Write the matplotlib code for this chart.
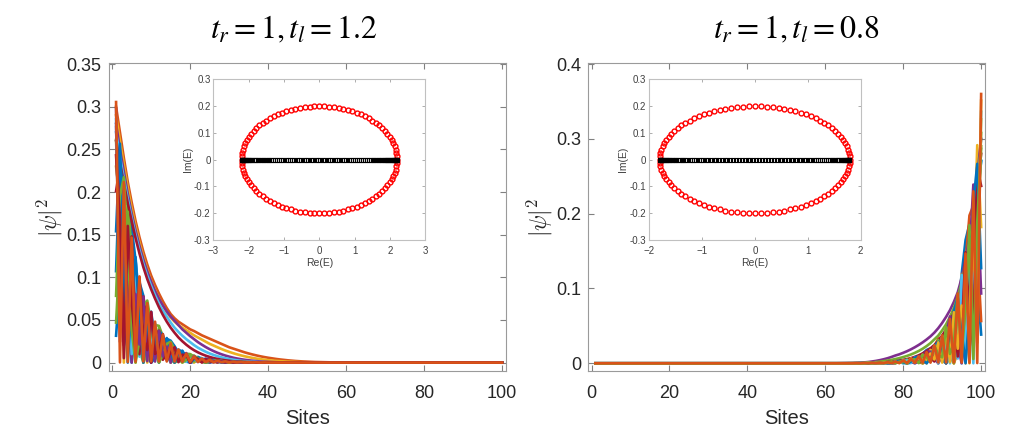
import matplotlib
matplotlib.use("Agg")
import matplotlib.pyplot as plt
from matplotlib.ticker import FormatStrFormatter

plt.rcParams['font.family'] = ['Liberation Sans', 'DejaVu Sans']

sites = list(range(1, 101))

# left panel (t_r = 1, t_l = 1.2): |psi|^2 from site 1 onward
# smooth outer curves
L_orange = [.30, .27, .24, .212, .188, .166, .147, .130, .115, .102, .091, .081, .072, .064, .057, .052, .048,
            .045, .042, .039, .037, .0345, .032, .030, .028, .026, .024, .022, .020, .018, .0165, .015, .0135,
            .012, .0107, .0095, .0084, .0074, .0065, .0057, .0050, .0043, .0037, .0032, .0027, .0023, .0019,
            .0016, .0013, .0011, .0009, .0007, .0006, .0005, .0004, .0003, .0002, .0002, .0001]
L_yellow = [.29, .26, .232, .205, .181, .160, .141, .124, .109, .096, .085, .075, .067, .059, .053, .048, .044,
            .041, .038, .035, .032, .0295, .027, .0245, .022, .020, .018, .016, .0142, .0126, .0111, .0097,
            .0085, .0074, .0064, .0055, .0047, .0040, .0034, .0029, .0024, .0020, .0017, .0014, .0011, .0009,
            .0007, .0005, .0004, .0003, .0002, .0001]
L_purple = [.28, .25, .224, .198, .175, .155, .137, .121, .107, .095, .084, .075, .067, .060, .054, .049, .044,
            .039, .035, .031, .0275, .024, .021, .0182, .0157, .0135, .0115, .0098, .0083, .0070, .0058, .0048,
            .0040, .0033, .0027, .0022, .0017, .0013, .0010, .0008, .0006, .0004, .0003, .0002, .0001]
L_lightblue = [.27, .242, .216, .192, .170, .150, .132, .116, .102, .090, .079, .069, .061, .054, .047, .041,
               .036, .0315, .0275, .024, .0205, .0175, .015, .0127, .0107, .0090, .0075, .0062, .0051, .0042,
               .0034, .0027, .0021, .0017, .0013, .0010, .0007, .0005, .0004, .0003, .0002, .0001]
L_darkred = [.26, .235, .21, .187, .166, .146, .128, .112, .098, .086, .075, .065, .056, .048, .041, .035,
             .0295, .025, .021, .0175, .0145, .012, .0099, .0081, .0066, .0053, .0043, .0034, .0027, .0021,
             .0016, .0012, .0009, .0007, .0005, .0003, .0002, .0001]
# oscillating curves
L_half = [.3056, .0002, .2117, .0007, .1465, .0011, .1011, .0013, .0697, .0014, .0480, .0014, .0329, .0013,
          .0225, .0012, .0154, .0011, .0105, .0009, .0072, .0008, .0048, .0006, .0033, .0005, .0022, .0004,
          .0015, .0003, .0010, .0002, .0007, .0001, .0004, .0001, .0003, 0, .0002]
L_9twentieth = [.2981, .0243, .1685, .0611, .0737, .0804, .0211, .0772, .0017, .0592, .0012, .0372, .0071, .0187,
                .0119, .0069, .0131, .0013, .0112, 0, .0078, .0006, .0044, .0016, .0019, .0021, .0006, .0020, 0,
                .0015, 0, .0010, .0002, .0005, .0003, .0002, .0003, 0, .0003]
L_7twentieth = [.2431, .1670, .0052, .1603, .0739, .0118, .1001, .0295, .0147, .0594, .0102, .0142, .0335, .0027,
                .0119, .0180, .0004, .0090, .0091, 0, .0063, .0044, .0001, .0042, .0019, .0003, .0026, .0008,
                .0004, .0015, .0003, .0004, .0009, .0001, .0003, .0005]
L_third = [.2298, .1915, 0, .1330, .1108, 0, .0770, .0641, 0, .0445, .0371, 0, .0258, .0215, 0, .0149, .0124,
           0, .0086, .0072, 0, .0050, .0042, 0, .0029, .0024, 0, .0017, .0014, 0, .0010, .0008, 0, .0006, .0005]
L_quarter = [.1540, .2567, .1070, 0, .0743, .1238, .0516, 0, .0358, .0597, .0249, 0, .0173, .0288, .0120, 0,
             .0083, .0139, .0058, 0, .0040, .0067, .0028, 0, .0019, .0032, .0013, 0, .0009, .0016, .0006]
L_sixth = [.0783, .1957, .2175, .1359, .0378, 0, .0262, .0656, .0728, .0455, .0126, 0, .0088, .0220, .0244,
           .0152, .0042, 0, .0029, .0074, .0082, .0051, .0014, 0, .0010, .0025, .0027, .0017, .0005, 0,
           .0003, .0008, .0009, .0006, .0002]
L_fifth = [.1072, .2339, .1949, .0621, 0, .0431, .0940, .0784, .0249, 0, .0173, .0378, .0315, .0100, 0,
           .0070, .0152, .0127, .0040, 0, .0028, .0061, .0051, .0016, 0, .0011, .0025, .0020, .0007, 0,
           .0005, .0010, .0008, .0003]
L_eighth = [.0469, .1334, .1898, .1854, .1318, .0644, .0157, 0, .0109, .0310, .0442, .0431, .0307, .0150,
            .0037, 0, .0025, .0072, .0103, .0100, .0071, .0035, .0009, 0, .0006, .0017, .0024, .0023, .0017,
            .0008, .0002]
L_tenth = [.0315, .0949, .1498, .1725, .1589, .1198, .0722, .0318, .0073, 0, .0051, .0153, .0242, .0279,
           .0257, .0193, .0117, .0051, .0012, 0, .0008, .0025, .0039, .0045, .0042, .0031, .0019, .0008,
           .0002, 0, .0001, .0004, .0006, .0007, .0007, .0005, .0003, .0001]
L_3tenth = [.2009, .2313, .0204, .0614, .1480, .0426, .0098, .0775, .0467, 0, .0324, .0374, .0033, .0099,
            .0239, .0069, .0016, .0125, .0075, 0, .0052, .0060, .0005, .0016, .0039, .0011, .0003, .0020,
            .0012, 0, .0008, .0010, .0001, .0003, .0006, .0002, 0, .0003, .0002]
L_2fifth = [.2766, .0880, .0734, .1601, 0, .1112, .0354, .0295, .0643, 0, .0447, .0142, .0119, .0259, 0,
            .0180, .0057, .0048, .0104, 0, .0072, .0023, .0019, .0042, 0, .0029, .0009, .0008, .0017, 0,
            .0012, .0004, .0003, .0007]
L_3eighth = [.2612, .1275, .0311, .1771, .0216, .0615, .0875, 0, .0608, .0297, .0072, .0412, .0050, .0143,
             .0203, 0, .0141, .0069, .0017, .0096, .0012, .0033, .0047, 0, .0033, .0016, .0004, .0022,
             .0003, .0008, .0011]
L_5twelfth = [.2852, .0637, .1061, .1327, .0099, .1229, .0069, .0640, .0355, .0148, .0461, 0, .0320, .0071,
              .0119, .0149, .0011, .0138, .0008, .0072, .0040, .0017, .0052, 0, .0036, .0008, .0013, .0017,
              .0001, .0015, .0001, .0008, .0004, .0002, .0006]

# right panel (t_r = 1, t_l = 0.8): |psi|^2 from site 100 going left
R_purple = [.30, .25, .205, .168, .138, .114, .095, .082, .071, .062, .054, .047, .041, .036, .0318, .028,
            .0246, .0215, .0187, .0162, .014, .012, .0104, .0085, .0068, .0054, .0042, .0032, .0024, .0017,
            .0012, .0009, .0006, .0004, .0003, .0002, .0001]
R_green = [.29, .24, .197, .161, .132, .108, .089, .074, .062, .052, .044, .037, .032, .027, .023, .0195, .0165,
           .014, .0118, .0099, .0083, .0069, .0057, .0046, .0037, .0029, .0022, .0017, .0012, .0009, .0006,
           .0004, .0003, .0002, .0001]
R_darkred = [.28, .232, .19, .155, .126, .102, .083, .068, .055, .045, .037, .030, .0245, .020, .0163, .0132,
             .0107, .0086, .0069, .0055, .0043, .0034, .0026, .0020, .0015, .0011, .0008, .0006, .0004, .0003,
             .0002, .0001]
R_blue = [.27, .223, .182, .147, .118, .094, .075, .059, .047, .037, .029, .023, .018, .014, .011, .0085,
          .0066, .0051, .0039, .0030, .0023, .0017, .0013, .0010, .0007, .0005, .0003, .0002, .0001]
R_half = [.3600, .0003, .2299, .0007, .1466, .0010, .0932, .0012, .0592, .0012, .0375, .0011, .0238, .0009,
          .0150, .0008, .0094, .0006, .0059, .0005, .0037, .0003, .0023, .0002, .0015, .0002, .0009, .0001,
          .0005, .0001, .0004, 0, .0002]
R_9twentieth = [.3512, .0275, .1829, .0637, .0737, .0772, .0195, .0683, .0015, .0483, .0009, .0280, .0051, .0130,
                .0079, .0044, .0080, .0008, .0063, 0, .0040, .0003, .0021, .0007, .0009, .0009, .0002, .0008, 0,
                .0005]
R_7twentieth = [.2867, .1891, .0057, .1673, .0740, .0113, .0924, .0262, .0125, .0485, .0080, .0107, .0242, .0019,
                .0079, .0115, .0002, .0053, .0052, 0, .0033, .0022, 0, .0019, .0009, .0001, .0011, .0003, .0001,
                .0005]
R_third = [.2711, .2169, 0, .1388, .1111, 0, .0711, .0569, 0, .0364, .0291, 0, .0186, .0149, 0, .0095, .0076,
           0, .0049, .0039, 0, .0025, .0020, 0, .0013, .0010, 0, .0006, .0005, 0, .0003, .0003]
R_quarter = [.1822, .2916, .1166, 0, .0746, .1194, .0478, 0, .0306, .0489, .0196, 0, .0125, .0200, .0080, 0,
             .0051, .0082, .0033, 0, .0021, .0034, .0013, 0, .0009, .0014, .0005, 0, .0003, .0005]
R_sixth = [.0933, .2240, .2389, .1434, .0382, 0, .0245, .0587, .0626, .0376, .0100, 0, .0064, .0154, .0164,
           .0098, .0026, 0, .0017, .0040, .0043, .0026, .0007, 0, .0004, .0011, .0011, .0007, .0002, 0]
R_fifth = [.1273, .2666, .2133, .0652, 0, .0417, .0874, .0699, .0214, 0, .0137, .0286, .0229, .0070, 0,
           .0045, .0094, .0075, .0023, 0, .0015, .0031, .0025, .0007, 0, .0005, .0010, .0008, .0002, 0]
R_eighth = [.0565, .1544, .2108, .1976, .1349, .0632, .0148, 0, .0095, .0259, .0354, .0331, .0226, .0106,
            .0025, 0, .0016, .0043, .0059, .0055, .0038, .0018, .0004, 0, .0003, .0007, .0010, .0009,
            .0006, .0003]
R_tenth = [.0384, .1111, .1684, .1862, .1647, .1191, .0690, .0291, .0064, 0, .0041, .0119, .0181, .0200,
           .0177, .0128, .0074, .0031, .0007, 0, .0004, .0013, .0019, .0021, .0019, .0014, .0008, .0003,
           .0001, 0]
R_3tenth = [.2371, .2622, .0221, .0641, .1484, .0410, .0091, .0687, .0398, 0, .0255, .0281, .0024, .0069,
            .0159, .0044, .0010, .0074, .0043, 0, .0027, .0030, .0003, .0007, .0017, .0005, .0001, .0008,
            .0004, 0]
R_2fifth = [.3261, .0997, .0797, .1670, 0, .1068, .0326, .0261, .0547, 0, .0350, .0107, .0086, .0179, 0,
            .0115, .0035, .0028, .0059, 0, .0038, .0012, .0009, .0019, 0, .0012, .0004, .0003, .0006, 0]
R_3eighth = [.3079, .1443, .0338, .1847, .0216, .0591, .0807, 0, .0516, .0242, .0057, .0310, .0036, .0099,
             .0135, 0, .0087, .0041, .0010, .0052, .0006, .0017, .0023, 0, .0015, .0007, .0002, .0009,
             .0001, .0003]
R_5twelfth = [.3362, .0721, .1153, .1384, .0099, .1181, .0063, .0567, .0302, .0121, .0361, 0, .0231, .0050,
              .0079, .0095, .0007, .0081, .0004, .0039, .0021, .0008, .0025, 0, .0016, .0003, .0005, .0006,
              0, .0005]

# inset spectra: one quarter of the red ellipse (PBC) and half of the black bar (OBC)
ell_im = [0, .0126, .0251, .0375, .0497, .0618, .0736, .0852, .0964, .1072, .1176, .1275, .1369, .1458,
          .1541, .1618, .1689, .1753, .1810, .1860, .1902, .1937, .1965, .1984, .1996, .2]
ell_re_left = [2.2, 2.1957, 2.1826, 2.1610, 2.1309, 2.0923, 2.0455, 1.9906, 1.9279, 1.8575, 1.7798, 1.6951,
               1.6037, 1.5060, 1.4023, 1.2931, 1.1788, 1.0599, .9367, .8099, .6798, .5471, .4122, .2757,
               .1381, 0]
ell_re_right = [1.8, 1.7965, 1.7858, 1.7681, 1.7434, 1.7119, 1.6736, 1.6287, 1.5774, 1.5198, 1.4562, 1.3869,
                1.3121, 1.2322, 1.1474, 1.0580, .9645, .8672, .7664, .6626, .5562, .4476, .3373, .2256,
                .1130, 0]
obc_left = [2.189, 2.186, 2.181, 2.173, 2.164, 2.152, 2.138, 2.123, 2.105, 2.085, 2.063, 2.039, 2.013, 1.986,
            1.956, 1.924, 1.891, 1.855, 1.818, 1.779, 1.739, 1.696, 1.653, 1.607, 1.560, 1.511, 1.461, 1.410,
            1.357, 1.304, 1.248, 1.192, 1.135, 1.076, 1.017, .955, .893, .830, .767, .703, .638, .572, .506,
            .440, .373, .306, .238, .170, .102, .034]
obc_right = [1.788, 1.786, 1.781, 1.775, 1.767, 1.758, 1.747, 1.734, 1.719, 1.703, 1.685, 1.666, 1.645, 1.622,
             1.598, 1.572, 1.545, 1.516, 1.485, 1.454, 1.420, 1.386, 1.350, 1.313, 1.274, 1.235, 1.194, 1.152,
             1.109, 1.065, 1.020, .974, .927, .879, .831, .780, .729, .678, .626, .574, .521, .468, .414,
             .359, .305, .250, .194, .139, .083, .028]

# MATLAB default line colours
blue, orange, yellow, purple = '#0072BD', '#D95319', '#EDB120', '#7E2F8E'
green, lightblue, darkred = '#77AC30', '#4DBEEE', '#A2142F'

left_curves = [(L_tenth, blue), (L_orange, orange), (L_yellow, yellow), (L_purple, purple),
               (L_eighth, green), (L_lightblue, lightblue), (L_darkred, darkred), (L_fifth, blue),
               (L_third, yellow), (L_2fifth, purple), (L_3eighth, green), (L_5twelfth, lightblue),
               (L_3tenth, darkred), (L_quarter, blue), (L_sixth, green), (L_9twentieth, purple),
               (L_7twentieth, darkred), (L_half, orange)]
right_curves = [(R_tenth, blue), (R_eighth, orange), (R_quarter, yellow), (R_purple, purple),
                (R_green, green), (R_third, lightblue), (R_darkred, darkred), (R_blue, blue),
                (R_2fifth, yellow), (R_sixth, purple), (R_3eighth, green), (R_5twelfth, lightblue),
                (R_3tenth, darkred), (R_fifth, blue), (R_9twentieth, yellow), (R_7twentieth, green),
                (R_half, orange)]


def full(v):
    return v + [0.0] * (100 - len(v))


def ellipse(re_q, im_q):
    re = re_q + [-x for x in re_q[-2::-1]] + [-x for x in re_q[1:]] + re_q[-2:0:-1]
    im = im_q + im_q[-2::-1] + [-y for y in im_q[1:]] + [-y for y in im_q[-2:0:-1]]
    return re, im


def style_main(ax, yticks, ylim):
    ax.set_xlim(-0.9, 100.9)
    ax.set_ylim(*ylim)
    ax.set_xticks([0, 20, 40, 60, 80, 100])
    ax.set_yticks(yticks)
    ax.yaxis.set_major_formatter(FormatStrFormatter('%g'))
    ax.tick_params(direction='in', top=True, right=True, labelsize=13, labelcolor='#262626',
                   color='#808080', length=4, width=0.8)
    ax.tick_params(axis='x', pad=10)
    ax.tick_params(axis='y', pad=5)
    for s in ax.spines.values():
        s.set_color('#9a9a9a')
    ax.set_xlabel('Sites', fontsize=14.5, color='#262626', labelpad=5)
    ax.set_ylabel(r'$|\psi|^2$', fontsize=17, color='#262626', labelpad=1, math_fontfamily='cm')


def draw_inset(ax, re_q, obc, xmax):
    re, im = ellipse(re_q, ell_im)
    ax.plot(re, im, 'o', mfc='none', mec='#ff0000', ms=3.5, mew=1.0)
    bar = [-x for x in obc] + obc[::-1]
    ax.plot(bar, [0.0] * len(bar), 's', mfc='none', mec='black', ms=3, mew=0.8)
    ax.set_xlim(-xmax, xmax)
    ax.set_ylim(-0.3, 0.3)
    ax.set_xticks(list(range(-xmax, xmax + 1)))
    ax.set_yticks([-0.3, -0.2, -0.1, 0, 0.1, 0.2, 0.3])
    ax.yaxis.set_major_formatter(FormatStrFormatter('%g'))
    ax.tick_params(direction='in', top=True, right=True, labelsize=7, labelcolor='#404040',
                   color='#a0a0a0', length=2.5, width=0.6)
    ax.tick_params(axis='x', pad=4)
    ax.tick_params(axis='y', pad=2)
    for s in ax.spines.values():
        s.set_color('#c0c0c0')
    ax.set_xlabel('Re(E)', fontsize=7.5, color='#404040', labelpad=2)
    ax.set_ylabel('Im(E)', fontsize=7.5, color='#404040', labelpad=1)


fig = plt.figure(figsize=(10.26, 4.44), dpi=100)

ax1 = fig.add_axes([0.1059, 0.1651, 0.3869, 0.6923])
for v, c in left_curves:
    ax1.plot(sites, full(v), color=c, lw=1.9)
style_main(ax1, [0, 0.05, 0.1, 0.15, 0.2, 0.25, 0.3, 0.35], (-0.0095, 0.351))

ax2 = fig.add_axes([0.5731, 0.1651, 0.3866, 0.6923])
for v, c in right_curves:
    ax2.plot(sites[::-1], full(v), color=c, lw=1.9)
style_main(ax2, [0, 0.1, 0.2, 0.3, 0.4], (-0.0099, 0.401))

in1 = fig.add_axes([0.2079, 0.4595, 0.2066, 0.3619])
draw_inset(in1, ell_re_left, obc_left, 3)
in2 = fig.add_axes([0.6326, 0.4595, 0.2063, 0.3619])
draw_inset(in2, ell_re_right, obc_right, 2)

fig.text(294 / 1026, 1 - 30 / 444, r'$t_r = 1, t_l = 1.2$', fontsize=23, ha='center', va='center',
         math_fontfamily='stix')
fig.text(796 / 1026, 1 - 30 / 444, r'$t_r = 1, t_l = 0.8$', fontsize=23, ha='center', va='center',
         math_fontfamily='stix')

fig.savefig('out.png', dpi=100)
